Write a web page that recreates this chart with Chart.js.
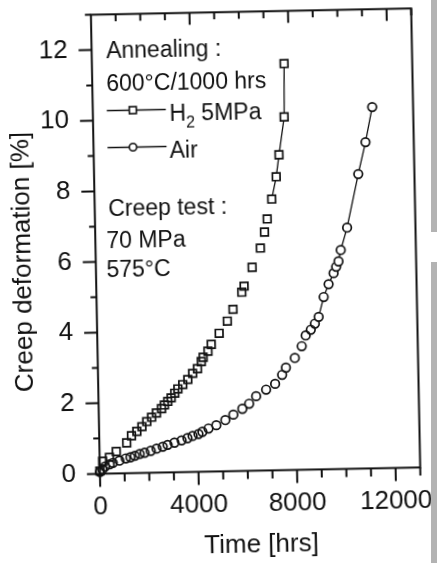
<!DOCTYPE html>
<html>
<head>
<meta charset="utf-8">
<script src="https://cdn.jsdelivr.net/npm/chart.js@4.4.1/dist/chart.umd.min.js"></script>
<style>
  html, body { margin: 0; padding: 0; background: #fff; overflow: hidden; }
  #wrap { position: relative; width: 437px; height: 563px; }
  /* the scanned figure sits slightly tilted */
  #creepChart { position: absolute; left: 0; top: 0; transform: rotate(-1.13deg); transform-origin: 218.5px 281.5px; }
  .scanEdge { position: absolute; left: 431px; width: 6px; background: #b3b3b3; }
</style>
</head>
<body>
<div id="wrap">
  <canvas id="creepChart" width="437" height="563"></canvas>
  <div class="scanEdge" style="top:0;height:232px"></div>
  <div class="scanEdge" style="top:262px;height:301px"></div>
</div>
<script>
// Creep curves after annealing 600°C/1000 hrs (creep test 70 MPa, 575°C)
const h2Time = [0, 120, 400, 680, 1110, 1310, 1530, 1740, 1940, 2140, 2340, 2550, 2670, 2810, 2950,
    3100, 3230, 3430, 3640, 3840, 4040, 4200, 4280, 4480, 4620, 4950, 5290, 5530, 5900, 6000,
    6340, 6690, 6870, 6990, 7190, 7390, 7520, 7760, 7800];
const h2Strain = [0.08, 0.35, 0.46, 0.62, 0.86, 1.06, 1.18, 1.31, 1.45, 1.57, 1.69, 1.81, 1.91, 2.01, 2.11,
    2.24, 2.36, 2.48, 2.62, 2.79, 2.92, 3.12, 3.24, 3.41, 3.6, 3.91, 4.25, 4.58, 5.06, 5.23,
    5.76, 6.3, 6.75, 7.12, 7.68, 8.31, 8.93, 10.0, 11.51];

const airTime = [0, 100, 210, 400, 530, 800, 1060, 1250, 1430, 1630, 1830, 2080, 2320, 2570, 2770,
    3050, 3340, 3580, 3790, 4030, 4190, 4440, 4760, 5130, 5460, 5830, 6110, 6400, 6810, 7180,
    7470, 7630, 8000, 8290, 8460, 8670, 8840, 9000, 9220, 9430, 9640, 9750, 9850, 9950, 10225,
    10720, 11040, 11340];
const airStrain = [0.05, 0.12, 0.2, 0.26, 0.3, 0.36, 0.42, 0.45, 0.49, 0.54, 0.57, 0.62, 0.68, 0.73, 0.78,
    0.84, 0.9, 0.96, 1.02, 1.07, 1.13, 1.22, 1.31, 1.45, 1.6, 1.76, 1.9, 2.11, 2.29, 2.45,
    2.7, 2.9, 3.17, 3.5, 3.8, 3.96, 4.13, 4.32, 4.88, 5.24, 5.55, 5.73, 5.88, 6.2, 6.83,
    8.34, 9.24, 10.23];

// the joining line is only visible on the sparse end of each curve
const h2JoinedFrom = 7190;
const airJoinedFrom = 9000;

const xTickLabels = [0, 4000, 8000, 12000];
const yTickLabels = [0, 2, 4, 6, 8, 10, 12];
const xMinorStep = 1000;
const yMinorStep = 1;

const ink = '#111';
const fontFamily = "'Liberation Sans', Arial, Helvetica, sans-serif";

function points(xs, ys) {
    return xs.map((x, i) => ({ x: x, y: ys[i] }));
}

// Frame, tick marks, y title and the in-plot notes
const framePlugin = {
    id: 'frame',
    afterDatasetsDraw(chart) {
        const ctx = chart.ctx;
        const area = chart.chartArea;
        const xs = chart.scales.x;
        const ys = chart.scales.y;
        ctx.save();
        ctx.strokeStyle = ink;
        ctx.lineWidth = 2;
        ctx.strokeRect(area.left, area.top, area.right - area.left, area.bottom - area.top);

        ctx.beginPath();
        for (let v = 0; v <= xs.max; v += xMinorStep) {
            const px = xs.getPixelForValue(v);
            const major = xTickLabels.includes(v);
            ctx.moveTo(px, area.bottom);
            ctx.lineTo(px, area.bottom + (major ? 13 : 8));
            if (v > 0) {
                ctx.moveTo(px, area.top);
                ctx.lineTo(px, area.top + (major ? 12 : 7));
            }
        }
        for (let v = 0; v <= ys.max; v += yMinorStep) {
            const py = ys.getPixelForValue(v);
            const major = yTickLabels.includes(v);
            ctx.moveTo(area.left, py);
            ctx.lineTo(area.left - (major ? 13 : 6), py);
        }
        ctx.stroke();

        // y axis title
        ctx.fillStyle = ink;
        ctx.font = '26px ' + fontFamily;
        ctx.textAlign = 'center';
        ctx.textBaseline = 'middle';
        ctx.save();
        ctx.translate(23.5, ys.getPixelForValue(6.04));
        ctx.rotate(-Math.PI / 2);
        ctx.fillText('Creep deformation [%]', 0, 0);
        ctx.restore();

        // notes
        const L = area.left;
        ctx.textAlign = 'left';
        ctx.textBaseline = 'alphabetic';
        ctx.font = '23px ' + fontFamily;
        ctx.fillText('Annealing :', L + 14.5, 56);
        ctx.fillText('600°C/1000 hrs', L + 14, 89);
        ctx.fillText('Creep test :', L + 13.5, 214);
        ctx.fillText('70 MPa', L + 11, 246);
        ctx.fillText('575°C', L + 10.5, 275);

        // legend rows
        ctx.lineWidth = 1.3;
        ctx.beginPath();
        ctx.moveTo(L + 14, 108.5); ctx.lineTo(L + 73, 108.5);
        ctx.moveTo(L + 14, 145.5); ctx.lineTo(L + 73, 145.5);
        ctx.stroke();
        ctx.lineWidth = 1.6;
        ctx.fillStyle = '#fff';
        ctx.fillRect(L + 36.5, 105, 7, 7);
        ctx.strokeRect(L + 36.5, 105, 7, 7);
        ctx.beginPath();
        ctx.arc(L + 39.5, 145.5, 3.7, 0, Math.PI * 2);
        ctx.fill();
        ctx.stroke();

        ctx.fillStyle = ink;
        let tx = L + 76.5;
        ctx.font = '23px ' + fontFamily;
        ctx.fillText('H', tx, 120);
        tx += ctx.measureText('H').width;
        ctx.font = '16px ' + fontFamily;
        ctx.fillText('2', tx, 126.5);
        tx += ctx.measureText('2').width;
        ctx.font = '23px ' + fontFamily;
        ctx.fillText(' 5MPa', tx, 120);
        ctx.fillText('Air', L + 76, 157);
        ctx.restore();
    }
};

function seriesStyle(times, joinedFrom, style, radius) {
    return {
        pointStyle: style,
        pointRadius: radius,
        pointBorderWidth: 1.7,
        pointBorderColor: ink,
        pointBackgroundColor: ctx => times[ctx.dataIndex] >= joinedFrom ? '#fff' : 'rgba(255,255,255,0)',
        showLine: true,
        borderWidth: 1.3,
        borderColor: ink,
        segment: {
            borderColor: ctx => times[ctx.p0DataIndex] >= joinedFrom ? ink : 'rgba(0,0,0,0)'
        },
        clip: false
    };
}

const ctx = document.getElementById('creepChart').getContext('2d');
const creepChart = new Chart(ctx, {
    type: 'scatter',
    data: {
        datasets: [
            Object.assign({ label: 'H2 5MPa', data: points(h2Time, h2Strain) },
                seriesStyle(h2Time, h2JoinedFrom, 'rect', 5.4)),
            Object.assign({ label: 'Air', data: points(airTime, airStrain) },
                seriesStyle(airTime, airJoinedFrom, 'circle', 4.3))
        ]
    },
    options: {
        responsive: false,
        animation: false,
        devicePixelRatio: 1,
        layout: { padding: { top: 12.3, right: 20.5, bottom: 0, left: 0 } },
        plugins: {
            legend: { display: false },
            tooltip: { enabled: false }
        },
        scales: {
            x: {
                type: 'linear',
                min: 0,
                max: 13000,
                afterBuildTicks: scale => { scale.ticks = xTickLabels.map(v => ({ value: v })); },
                afterFit: scale => {
                    scale.height = 91.6;
                    scale.paddingLeft = 0;
                    scale.paddingRight = 0;
                },
                grid: { display: false, drawTicks: false },
                border: { display: false },
                ticks: {
                    padding: 17.7,
                    maxRotation: 0,
                    autoSkip: false,
                    color: ink,
                    font: { family: fontFamily, size: 26 },
                    callback: v => String(v)
                },
                title: {
                    display: true,
                    text: 'Time [hrs]',
                    color: ink,
                    font: { family: fontFamily, size: 26 },
                    padding: { top: 0, bottom: 1.6 }
                }
            },
            y: {
                type: 'linear',
                min: 0,
                max: 13,
                afterBuildTicks: scale => { scale.ticks = yTickLabels.map(v => ({ value: v })); },
                afterFit: scale => {
                    scale.width = 96.2;
                    scale.paddingTop = 0;
                    scale.paddingBottom = 0;
                },
                grid: { display: false, drawTicks: false },
                border: { display: false },
                ticks: {
                    padding: 24,
                    color: ink,
                    font: { family: fontFamily, size: 26 },
                    callback: v => String(v)
                }
            }
        }
    },
    plugins: [framePlugin]
});
</script>
</body>
</html>
